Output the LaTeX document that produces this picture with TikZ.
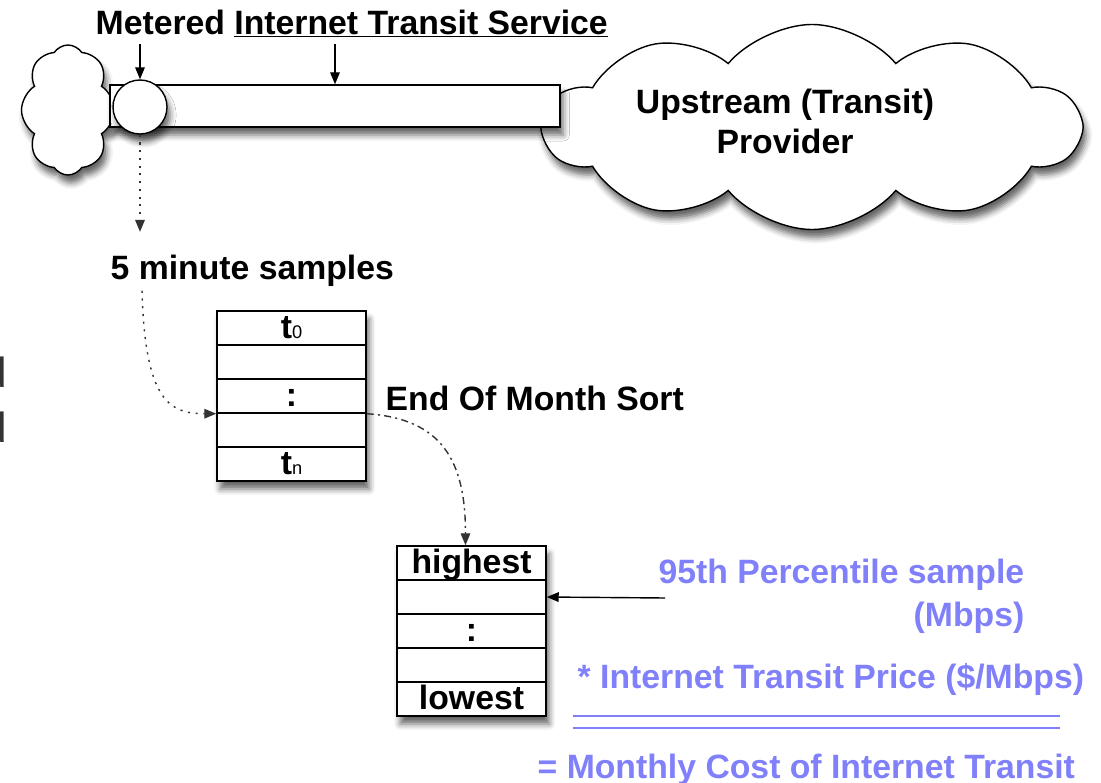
\documentclass[tikz,border=0pt]{standalone}
\usepackage{fontspec}
\setmainfont{Liberation Sans}
\usetikzlibrary{shapes.symbols,shadows.blur,arrows.meta}
\definecolor{costblue}{RGB}{128,128,250}

\begin{document}
\begin{tikzpicture}[x=0.025cm,y=-0.025cm,inner sep=0pt,line width=1pt,
    font=\fontsize{24}{28.5}\selectfont\bfseries,
    castshadow/.style={blur shadow={shadow xshift=0.8mm,shadow yshift=-2mm,shadow blur radius=1.5mm,shadow opacity=60}},
    cell/.style={draw,fill=white,minimum width=3.725cm,minimum height=0.85cm,text height=0.66cm,text depth=0.16cm},
    tip/.style={-{Triangle[length=3mm,width=2.4mm]}},
    dotline/.style={black!80,dash pattern=on 1.5pt off 4pt},
    dashdotline/.style={black!80,dash pattern=on 5pt off 3pt on 1.5pt off 3pt}]
    \useasboundingbox (0,0) rectangle (1101,783);

    % clouds and the transit link
    \node[draw,cloud,cloud puffs=8,cloud puff arc=115,cloud ignores aspect,minimum width=2.325cm,minimum height=3.25cm,fill=white,castshadow] (isp) at (68,110) {};
    \node[draw,cloud,cloud puffs=10,cloud puff arc=100,cloud ignores aspect,minimum width=13.375cm,minimum height=5.125cm,fill=white,castshadow] (upstream) at (812,127) {};
    \node[draw,rectangle,minimum width=11.25cm,minimum height=1.05cm,fill=white,castshadow] (pipe) at (335,106) {};
    \node[draw,circle,minimum size=1.35cm,fill=white,castshadow] (meter) at (140,107) {};
    \node[align=center] (upstreamtxt) at (785,121) {Upstream (Transit)\\Provider};

    \node[anchor=base west] (title) at (95,34) {Metered \underline{Internet Transit Service}};
    \coordinate (m1) at (140,44);
    \coordinate (m2) at (335,44);
    \draw[tip] (m1) -- (meter.north);
    \draw[tip] (m2) -- (pipe.north);

    % samples
    \node[anchor=base west] (fivemin) at (110,279) {5 minute samples};
    \draw[dotline,tip,shorten >=0.55cm] (meter.south) -- (meter.south |- fivemin.north);

    \node[cell,castshadow,minimum height=4.25cm] (samples) at (291.5,396) {};
    \node[cell] (s1) at (291.5,328) {t{\fontsize{13}{13}\selectfont\mdseries 0}};
    \node[cell] (s2) at (291.5,362) {};
    \node[cell] (s3) at (291.5,396) {:};
    \node[cell] (s4) at (291.5,430) {};
    \node[cell] (s5) at (291.5,464) {t{\fontsize{13}{13}\selectfont\mdseries n}};
    \draw[dotline,tip] ([xshift=0.8cm,yshift=-0.1cm]fivemin.south west) .. controls +(3,110) and +(-47,0) .. (s3.south west);

    % sorted
    \node[anchor=base west] (sortlabel) at (385,410) {End Of Month Sort};
    \node[cell,castshadow,minimum height=4.25cm] (sorted) at (471.5,631) {};
    \node[cell] (h1) at (471.5,563) {highest};
    \node[cell] (h2) at (471.5,597) {};
    \node[cell] (h3) at (471.5,631) {:};
    \node[cell] (h4) at (471.5,665) {};
    \node[cell] (h5) at (471.5,699) {lowest};
    \draw[dashdotline,tip] (s3.south east) .. controls +(75,5) and +(0,-85) .. ([xshift=-0.15cm]h1.north);

    % cost
    \node[anchor=base east,text=costblue] (pct) at (1025,583) {95th Percentile sample};
    \node[anchor=base east,text=costblue] (mbps) at (1025,626) {(Mbps)};
    \coordinate (pctarrow) at (665,598);
    \draw[tip] (pctarrow) -- (h2.east);
    \node[anchor=base west,text=costblue] (price) at (577,688) {* Internet Transit Price (\$/Mbps)};
    \draw[costblue] (573,716) -- (1060,716);
    \draw[costblue] (573,728) -- (1060,728);
    \node[anchor=base west,text=costblue] (cost) at (537,778) {= Monthly Cost of Internet Transit};

    \node[anchor=base east,font=\fontsize{30}{30}\selectfont,text=black!80] (cut1) at (8,387) {d};
    \node[anchor=base east,font=\fontsize{30}{30}\selectfont,text=black!80] (cut2) at (8,442) {d};
\end{tikzpicture}
\end{document}
